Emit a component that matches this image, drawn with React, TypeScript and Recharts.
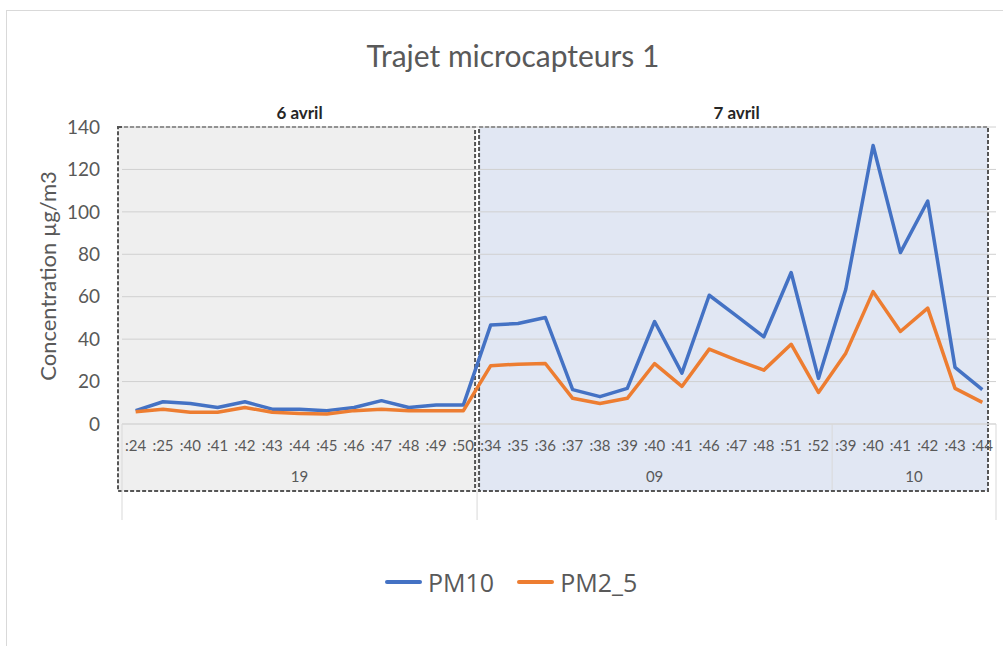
import React from 'react';
import { ComposedChart, Line, XAxis, YAxis, CartesianGrid, ReferenceArea } from 'recharts';

// ---- data ----
const minuteLabels = [
  ':24', ':25', ':40', ':41', ':42', ':43', ':44', ':45', ':46', ':47', ':48', ':49', ':50',
  ':34', ':35', ':36', ':37', ':38', ':39', ':40', ':41', ':46', ':47', ':48', ':51', ':52',
  ':39', ':40', ':41', ':42', ':43', ':44',
];
const hourGroups = ['19', '09', '10'];
const hourGroupSizes = [13, 13, 6];
const dayLabels = ['6 avril', '7 avril'];
const dayHourGroupCounts = [1, 2];

const pm10 = [
  6.3, 10.5, 9.7, 7.8, 10.5, 7, 7, 6.3, 7.8, 11, 7.8, 9, 9,
  46.7, 47.4, 50.2, 16.2, 12.9, 16.8, 48.3, 24, 60.7, 51, 41.1, 71.4, 21.5,
  63.5, 131.3, 80.8, 105.1, 26.7, 16.2,
];
const pm25 = [
  5.8, 7, 5.5, 5.5, 7.8, 5.5, 5, 4.7, 6.3, 7, 6.3, 6.3, 6.3,
  27.5, 28.2, 28.5, 12.1, 9.7, 12.1, 28.5, 17.7, 35.3, 30.1, 25.4, 37.6, 14.9,
  33.4, 62.4, 43.6, 54.6, 16.8, 10.2,
];
const yTicks = [0, 20, 40, 60, 80, 100, 120, 140];

// ---- derived table ----
const hourOf: string[] = [];
const hourIdxOf: number[] = [];
hourGroups.forEach((h, gi) => {
  for (let k = 0; k < hourGroupSizes[gi]; k++) {
    hourOf.push(h);
    hourIdxOf.push(gi);
  }
});
const dayOfGroup: number[] = [];
dayHourGroupCounts.forEach((c, di) => {
  for (let k = 0; k < c; k++) dayOfGroup.push(di);
});
const dayOf = hourIdxOf.map((g) => dayOfGroup[g]);

const data = minuteLabels.map((m, i) => ({
  key: `${hourOf[i]}${m}`,
  minute: m,
  PM10: pm10[i],
  PM2_5: pm25[i],
}));

const N = data.length;
const W = 1003;
const H = 646;
const MARGIN = { top: 127, right: 7, bottom: 102, left: 42 };
const Y_AXIS_W = 80;
const PLOT_W = W - MARGIN.left - MARGIN.right - Y_AXIS_W;

const TEXT = '#595959';
const FONT = 'Lato, "Open Sans", sans-serif';

const XTick = (props: any) => {
  const { x, y, payload } = props;
  const i: number = props.index ?? payload.index;
  const bw = payload && payload.offset ? payload.offset * 2 : PLOT_W / N;
  const left = x - bw / 2;
  const right = x + bw / 2;
  const els: React.ReactNode[] = [];
  els.push(
    <text key="m" x={x} y={y + 27} textAnchor="middle" fill={TEXT} fontSize={15} fontFamily={FONT}>
      {minuteLabels[i]}
    </text>
  );
  const isHourStart = i === 0 || hourIdxOf[i] !== hourIdxOf[i - 1];
  const isDayStart = i === 0 || dayOf[i] !== dayOf[i - 1];
  if (isHourStart) {
    const g = hourIdxOf[i];
    const cx = left + (hourGroupSizes[g] * bw) / 2;
    els.push(
      <text key="h" x={cx} y={y + 58} textAnchor="middle" fill={TEXT} fontSize={15} fontFamily={FONT}>
        {hourGroups[g]}
      </text>
    );
    els.push(
      <line key="l" x1={left} x2={left} y1={y} y2={y + (isDayStart ? 96 : 66)} stroke="#d9d9d9" strokeWidth={1} />
    );
  }
  if (i === N - 1) {
    els.push(<line key="r" x1={right} x2={right} y1={y} y2={y + 96} stroke="#d9d9d9" strokeWidth={1} />);
  }
  return <g>{els}</g>;
};

const makeShape = (fill: string, insetL: number, insetR: number) => (p: any) => {
  const { x, y, width, height } = p;
  return (
    <rect
      x={x + insetL}
      y={y}
      width={width - insetL - insetR}
      height={height + 67}
      fill={fill}
      stroke="#555"
      strokeWidth={2}
      strokeDasharray="4 2"
    />
  );
};

const dayRanges = dayLabels.map((d, di) => {
  const idx = dayOf.map((v, i) => (v === di ? i : -1)).filter((v) => v >= 0);
  return { label: d, x1: data[idx[0]].key, x2: data[idx[idx.length - 1]].key };
});
const dayFills = ['#efefef', '#e1e7f3'];
const dayInsets = [
  [-4, 2],
  [2, 8],
];

export default function App() {
  return (
    <div style={{ position: 'absolute', left: 0, top: 0, width: W, height: H, background: '#fff', overflow: 'hidden' }}>
      <div
        style={{
          position: 'absolute',
          left: 6,
          top: 10,
          width: W,
          height: H,
          borderLeft: '1px solid #d9d9d9',
          borderTop: '1px solid #d9d9d9',
        }}
      />
      <div style={{ position: 'absolute', left: 0, top: 0 }}>
        <ComposedChart width={W} height={H} data={data} margin={MARGIN}>
          {dayRanges.map((r, di) => (
            <ReferenceArea
              key={r.label}
              x1={r.x1}
              x2={r.x2}
              y1={0}
              y2={140}
              ifOverflow="visible"
              zIndex={-200}
              shape={makeShape(dayFills[di], dayInsets[di][0], dayInsets[di][1])}
              label={{
                value: r.label,
                position: 'top',
                offset: 8,
                fill: '#262626',
                fontSize: 17,
                fontWeight: 'bold',
                fontFamily: FONT,
              }}
            />
          ))}
          <CartesianGrid vertical={false} stroke="#d0d0d0" />
          <XAxis
            dataKey="key"
            scale="band"
            interval={0}
            tickLine={false}
            tickSize={0}
            tickMargin={0}
            height={120}
            axisLine={{ stroke: '#d9d9d9' }}
            tick={<XTick />}
          />
          <YAxis
            domain={[0, 140]}
            ticks={yTicks}
            width={Y_AXIS_W}
            axisLine={false}
            tickLine={false}
            tickSize={0}
            tickMargin={22}
            tick={{ fill: TEXT, fontSize: 19, fontFamily: FONT }}
          />
          <Line
            dataKey="PM10"
            stroke="#4472c4"
            strokeWidth={3.5}
            dot={false}
            isAnimationActive={false}
            strokeLinejoin="round"
          />
          <Line
            dataKey="PM2_5"
            stroke="#ed7d31"
            strokeWidth={3.5}
            dot={false}
            isAnimationActive={false}
            strokeLinejoin="round"
          />
        </ComposedChart>
      </div>
      <svg width={W} height={H} style={{ position: 'absolute', left: 0, top: 0, pointerEvents: 'none' }}>
        <text x={513} y={67} textAnchor="middle" fill={TEXT} fontSize={30} fontFamily={FONT}>
          Trajet microcapteurs 1
        </text>
        <text
          x={0}
          y={0}
          transform="translate(56,276) rotate(-90)"
          textAnchor="middle"
          fill={TEXT}
          fontSize={22}
          fontFamily={FONT}
        >
          Concentration µg/m3
        </text>
      </svg>
      <div
        style={{
          position: 'absolute',
          left: 385,
          top: 566,
          display: 'flex',
          alignItems: 'center',
          fontFamily: '"Open Sans", sans-serif',
          fontSize: 25,
          color: TEXT,
          lineHeight: '32px',
        }}
      >
        <span style={{ display: 'inline-block', width: 37, height: 4, background: '#4472c4', borderRadius: 2, marginRight: 6 }} />
        <span>PM10</span>
        <span
          style={{ display: 'inline-block', width: 37, height: 4, background: '#ed7d31', borderRadius: 2, marginLeft: 23, marginRight: 6 }}
        />
        <span>PM2_5</span>
      </div>
    </div>
  );
}
